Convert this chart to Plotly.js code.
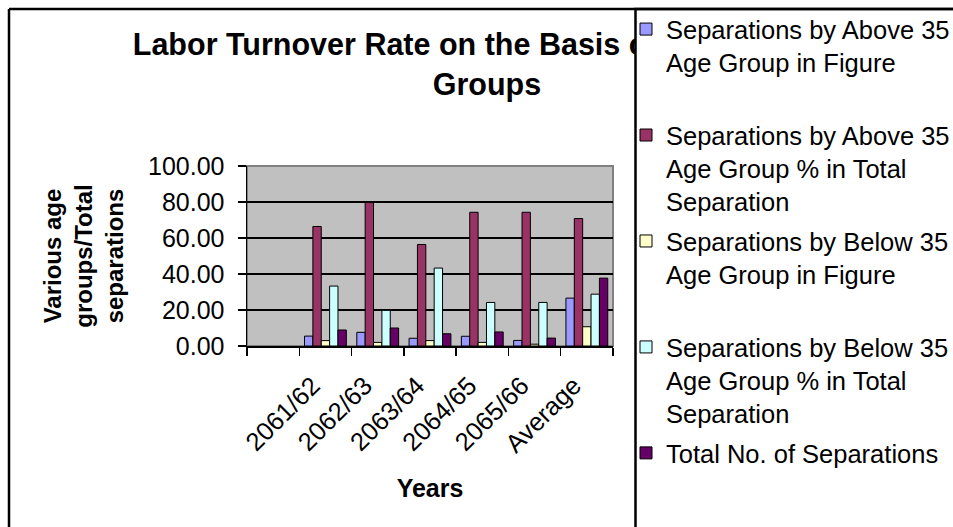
<!DOCTYPE html>
<html>
<head>
<meta charset="utf-8">
<script src="https://cdn.plot.ly/plotly-3.0.1.min.js"></script>
<style>
html, body { margin: 0; padding: 0; background: #ffffff; }
#chart { width: 953px; height: 527px; }
</style>
</head>
<body>
<div id="chart"></div>
<script>
// ---- data ----
const categories = [" ", "2061/62", "2062/63", "2063/64", "2064/65", "2065/66", "Average"];
const above35Figure = [null, 5.5, 7.6, 4.3, 5.4, 3.1, 26.6];
const above35Pct = [null, 66.4, 79.7, 56.4, 74.3, 74.3, 70.8];
const below35Figure = [null, 3.0, 2.0, 3.0, 2.0, 1.0, 10.7];
const below35Pct = [null, 33.3, 19.8, 43.3, 24.2, 24.2, 28.8];
const totalSeparations = [null, 8.9, 10.0, 6.8, 7.8, 4.4, 37.7];

const seriesNames = [
  "Separations by Above 35<br>Age Group in Figure<br> ",
  "Separations by Above 35<br>Age Group % in Total<br>Separation",
  "Separations by Below 35<br>Age Group in Figure<br> ",
  "Separations by Below 35<br>Age Group % in Total<br>Separation",
  "Total No. of Separations"
];
const seriesValues = [above35Figure, above35Pct, below35Figure, below35Pct, totalSeparations];
const seriesColors = ["#9999FF", "#993366", "#FFFFCC", "#CCFFFF", "#660066"];
const yTickValues = [0, 20, 40, 60, 80, 100];

// ---- layout geometry ----
const W = 953, H = 527;
const PL = 247, PR = 613, PT = 166, PB = 346;
const px = v => (v - PL) / (PR - PL);
const py = v => (PB - v) / (PB - PT);

const FONT = "Liberation Sans, Arial, sans-serif";

const traces = seriesNames.map((name, i) => ({
  type: "bar",
  name: name,
  legendgroup: "g" + i,
  x: categories,
  y: seriesValues[i],
  marker: { color: seriesColors[i], line: { color: "#000000", width: 1 } },
  hoverinfo: "x+y"
}));

const layout = {
  width: W,
  height: H,
  margin: { l: PL, r: W - PR, t: PT, b: H - PB, pad: 0 },
  paper_bgcolor: "#ffffff",
  plot_bgcolor: "#C0C0C0",
  font: { family: FONT, color: "#000000", size: 25 },
  barmode: "group",
  bargap: 0.2,
  bargroupgap: 0,
  title: {
    text: "Labor Turnover Rate on the Basis of Various Age<br>Groups",
    font: { family: FONT, size: 30.5, weight: "bold", color: "#000000" },
    xref: "container", x: 487 / W, xanchor: "center",
    yref: "container", y: 1 - 55 / H, yanchor: "top"
  },
  xaxis: {
    type: "category",
    categoryorder: "array",
    categoryarray: categories,
    range: [-0.5, categories.length - 0.5],
    tickson: "boundaries",
    ticks: "outside",
    ticklen: 8,
    tickwidth: 1.5,
    tickcolor: "#000000",
    ticklabelstandoff: 13,
    ticklabelshift: -13,
    showline: true,
    linecolor: "#000000",
    linewidth: 1.5,
    showgrid: false,
    tickangle: -45,
    tickfont: { family: FONT, size: 25.5, color: "#000000" },
    title: {
      text: "Years",
      font: { family: FONT, size: 25, weight: "bold", color: "#000000" },
      standoff: 23
    },
    fixedrange: true
  },
  yaxis: {
    range: [0, 100],
    tickvals: yTickValues,
    tickformat: ".2f",
    ticks: "outside",
    ticklen: 8,
    tickwidth: 1.5,
    tickcolor: "#000000",
    ticklabelstandoff: 8,
    showline: true,
    linecolor: "#000000",
    linewidth: 1.5,
    showgrid: true,
    gridcolor: "#000000",
    gridwidth: 1.5,
    zeroline: false,
    tickfont: { family: FONT, size: 25, color: "#000000" },
    title: {
      text: "Various age<br>groups/Total<br>separations",
      font: { family: FONT, size: 24, weight: "bold", color: "#000000" },
      standoff: 17
    },
    fixedrange: true
  },
  legend: {
    xref: "container", yref: "container",
    x: 631 / W, xanchor: "left",
    y: 1 - 6 / H, yanchor: "top",
    bgcolor: "rgba(0,0,0,0)",
    borderwidth: 0,
    font: { family: FONT, size: 25.5, color: "#000000" },
    valign: "top",
    tracegroupgap: 3.5,
    indentation: -5,
    maxheight: 600,
    itemclick: false,
    itemdoubleclick: false
  },
  shapes: [
    // plot area gray border
    { type: "rect", xref: "paper", yref: "paper", x0: 0, x1: 1, y0: 0, y1: 1,
      line: { color: "#808080", width: 2 }, layer: "below" },
    // legend panel (covers the title overflow)
    { type: "rect", xref: "paper", yref: "paper",
      x0: px(635.5), x1: px(W + 10), y0: py(9), y1: py(H + 10),
      fillcolor: "#ffffff", line: { color: "#000000", width: 2.5 } },
    // chart frame: top and left edges
    { type: "line", xref: "paper", yref: "paper",
      x0: px(9), x1: px(W + 5), y0: py(9), y1: py(9),
      line: { color: "#000000", width: 2.5 } },
    { type: "line", xref: "paper", yref: "paper",
      x0: px(9), x1: px(9), y0: py(9), y1: py(H + 5),
      line: { color: "#000000", width: 2.5 } }
  ],
  showlegend: true
};

Plotly.newPlot("chart", traces, layout, { displayModeBar: false, staticPlot: true }).then(gd => {
  // Draw the title beneath the legend panel, so the panel hides its overflow as in the original.
  const title = gd.querySelector(".g-gtitle");
  const above = gd.querySelector(".layer-above");
  if (title && above) above.insertBefore(title, above.firstChild);
});
</script>
</body>
</html>
